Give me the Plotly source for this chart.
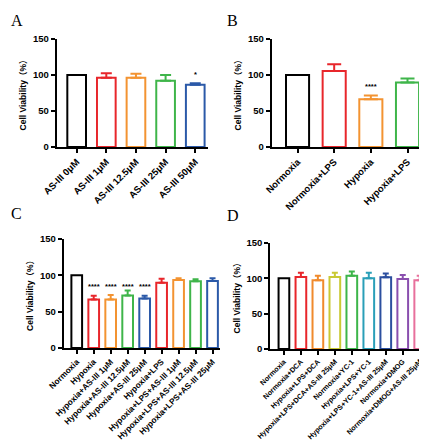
import plotly.graph_objects as go

# ---------------- data ----------------
a_labels = ["AS-III 0μM", "AS-III 1μM", "AS-III 12.5μM", "AS-III 25μM", "AS-III 50μM"]
a_values = [100, 96.3, 96.3, 92.1, 86.6]
a_err = [0, 6.0, 5.6, 7.9, 1.8]
a_colors = ["#000000", "#e8262b", "#f39331", "#3fb54a", "#2b59a8"]
a_stars = ["", "", "", "", "*"]
a_star_y = [0, 0, 0, 0, 101]

b_labels = ["Normoxia", "Normoxia+LPS", "Hypoxia", "Hypoxia+LPS"]
b_values = [100, 105.6, 66.2, 89.7]
b_err = [0, 9.4, 5.2, 5.6]
b_colors = ["#000000", "#e8262b", "#f39331", "#3fb54a"]
b_stars = ["", "", "****", ""]
b_star_y = [0, 0, 84, 0]

c_labels = ["Normoxia", "Hypoxia", "Hypoxia+AS-III 1μM", "Hypoxia+AS-III 12.5μM",
            "Hypoxia+AS-III 25μM", "Hypoxia+LPS", "Hypoxia+LPS+AS-III 1μM",
            "Hypoxia+LPS+AS-III 12.5μM", "Hypoxia+LPS+AS-III 25μM"]
c_values = [100, 66.8, 66.8, 72.4, 68.2, 89.9, 93.5, 91.7, 92.2]
c_err = [0, 5.1, 6.0, 6.9, 3.7, 5.5, 2.4, 2.8, 3.7]
c_colors = ["#000000", "#e8262b", "#f39331", "#3fb54a", "#2b59a8",
            "#e8262b", "#f39331", "#3fb54a", "#2b59a8"]
c_stars = ["", "****", "****", "****", "****", "", "", "", ""]
c_star_y = [0, 84, 84, 84, 84, 0, 0, 0, 0]

d_labels = ["Normoxia", "Normoxia+DCA", "Hypoxia+LPS+DCA", "Hypoxia+LPS+DCA+AS-III 25μM",
            "Normoxia+YC-1", "Hypoxia+LPS+YC-1", "Hypoxia+LPS+YC-1+AS-III 25μM",
            "Normoxia+DMOG", "Normoxia+DMOG+AS-III 25μM"]
d_values = [100, 101.9, 97.2, 101.9, 103.7, 100, 101.4, 99.1, 97.2]
d_err = [0, 6.0, 6.5, 6.0, 6.1, 7.9, 5.6, 5.6, 6.5]
d_colors = ["#000000", "#e8262b", "#f08a2c", "#c9c934", "#3db54a",
            "#2a9fb8", "#2c4f9f", "#8a4fae", "#e8709c"]

y_ticks = [0, 50, 100, 150]
y_title = "Cell Viability（%）"

# ---------------- figure ----------------
W, H = 427, 444
fig = go.Figure()

panels = [
    dict(lab=a_labels, val=a_values, err=a_err, col=a_colors, stars=a_stars, sy=a_star_y,
         px=(48.5, 200), py=(31, 139), xr=(-0.68, 4.43), cap=5.5, fs=9.5, letter="A",
         lpos=(0.5, 2)),
    dict(lab=b_labels, val=b_values, err=b_err, col=b_colors, stars=b_stars, sy=b_star_y,
         px=(263.5, 416), py=(31, 139), xr=(-0.71, 3.45), cap=7, fs=9.5, letter="B",
         lpos=(217, 2)),
    dict(lab=c_labels, val=c_values, err=c_err, col=c_colors, stars=c_stars, sy=c_star_y,
         px=(55.5, 212), py=(231, 340), xr=(-0.78, 8.44), cap=3, fs=8.3, letter="C",
         lpos=(0.5, 195)),
    dict(lab=d_labels, val=d_values, err=d_err, col=d_colors, stars=None, sy=None,
         px=(262, 418), py=(235, 341), xr=(-0.82, 8.37), cap=3, fs=7.2, letter="D",
         lpos=(217, 197)),
]

font_main = "Liberation Sans, Arial, Noto Sans CJK SC, sans-serif"
annotations = []
layout = {}
for i, p in enumerate(panels):
    n = i + 1
    xa = "x" if n == 1 else f"x{n}"
    ya = "y" if n == 1 else f"y{n}"
    xs = list(range(len(p["val"])))
    fig.add_trace(go.Bar(
        x=xs, y=p["val"], xaxis=xa, yaxis=ya, width=0.63,
        marker=dict(color="white", line=dict(color=p["col"], width=2)),
        showlegend=False, hoverinfo="skip",
    ))
    # upper error bars, each coloured like its bar
    for j in xs:
        if p["err"][j] > 0:
            fig.add_trace(go.Scatter(
                x=[j], y=[p["val"][j]], xaxis=xa, yaxis=ya, mode="markers",
                marker=dict(size=0.1, color="rgba(0,0,0,0)"),
                error_y=dict(type="data", symmetric=False, array=[p["err"][j]],
                             arrayminus=[0], color=p["col"][j], thickness=2,
                             width=p["cap"]),
                showlegend=False, hoverinfo="skip"))
    x0, x1 = p["px"]
    y0, y1 = p["py"]
    layout[("xaxis" if n == 1 else f"xaxis{n}")] = dict(
        domain=[x0 / W, x1 / W], anchor=ya, range=list(p["xr"]), automargin=False,
        tickmode="array", tickvals=xs, ticktext=p["lab"], tickangle=-45,
        ticks="outside", ticklen=4, tickwidth=1.5, tickcolor="black",
        showline=True, linecolor="black", linewidth=1.5, showgrid=False,
        zeroline=False, fixedrange=True,
        tickfont=dict(family=font_main, size=p["fs"], color="black", weight="bold"),
    )
    layout[("yaxis" if n == 1 else f"yaxis{n}")] = dict(
        domain=[1 - y1 / H, 1 - y0 / H], anchor=xa, range=[0, 150], automargin=False,
        tickmode="array", tickvals=y_ticks,
        ticks="outside", ticklen=4, tickwidth=1.5, tickcolor="black",
        showline=True, linecolor="black", linewidth=1.5, showgrid=False,
        zeroline=False, fixedrange=True,
        tickfont=dict(family=font_main, size=9.5, color="black", weight="bold"),
        title=dict(text=y_title, standoff=5,
                   font=dict(family=font_main, size=8.5, color="black", weight="bold")),
    )
    if p["stars"]:
        for j, s in enumerate(p["stars"]):
            if s:
                annotations.append(dict(
                    x=j, y=p["sy"][j], xref=xa, yref=ya, text=s, showarrow=False,
                    font=dict(family=font_main, size=7.5, color="black", weight="bold")))
    lx, ly = p["lpos"]
    annotations.append(dict(
        x=lx / W, y=1 - ly / H, xref="paper", yref="paper", text=p["letter"],
        showarrow=False, xanchor="left", yanchor="top",
        font=dict(family="Liberation Serif, Times New Roman, serif", size=16, color="black")))

fig.update_layout(
    template="none",
    width=W, height=H, margin=dict(l=0, r=0, t=0, b=0, autoexpand=False),
    paper_bgcolor="white", plot_bgcolor="white",
    annotations=annotations, barmode="overlay", **layout,
)

fig.write_html("out.html")
